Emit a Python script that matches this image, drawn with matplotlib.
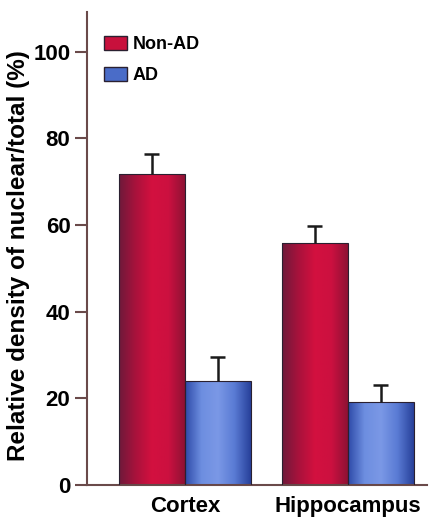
import numpy as np
import matplotlib
matplotlib.use("Agg")
import matplotlib.pyplot as plt
from matplotlib.colors import LinearSegmentedColormap
from matplotlib.patches import Patch

groups = ["Cortex", "Hippocampus"]
non_ad = [71.8, 55.9]
non_ad_err = [4.6, 3.9]
ad = [24.0, 19.2]
ad_err = [5.6, 3.9]

red_cmap = LinearSegmentedColormap.from_list(
    "red", ["#6e1a3a", "#a8123c", "#d3103f", "#cc1040", "#8e1234"])
blue_cmap = LinearSegmentedColormap.from_list(
    "blue", ["#2e4aa8", "#6d8ee0", "#7b98e6", "#5a7bd4", "#27409a"])

FONT = "Liberation Sans"

fig = plt.figure(figsize=(4.29, 5.22), dpi=100)
ax = fig.add_axes([0.203, 0.071, 0.792, 0.906])

x = np.arange(len(groups))
w = 0.405
grad = np.linspace(0, 1, 256).reshape(1, -1)


def shaded_bars(xs, vals, errs, cmap):
    vals = np.asarray(vals)
    errs = np.asarray(errs)
    bars = ax.bar(xs, vals, w, color="none", edgecolor="#2a2030", linewidth=0.8, zorder=3)
    for b in bars:
        im = ax.imshow(grad, cmap=cmap, aspect="auto", zorder=2,
                       extent=[b.get_x(), b.get_x() + b.get_width(), 0, b.get_height()])
        im.set_clip_path(b)
    # upper error bars only (no cap line at the bar top)
    ax.vlines(xs, vals, vals + errs, color="#1a1a1a", linewidth=1.8, zorder=4)
    cw = 0.046
    ax.hlines(vals + errs, xs - cw, xs + cw, color="#1a1a1a", linewidth=1.8, zorder=4)
    return bars


shaded_bars(x - w / 2, non_ad, non_ad_err, red_cmap)
shaded_bars(x + w / 2, ad, ad_err, blue_cmap)

ax.set_xlim(-0.60, 1.485)
ax.set_ylim(0, 109.2)

for s in ["top", "right"]:
    ax.spines[s].set_visible(False)
for s in ["left", "bottom"]:
    ax.spines[s].set_color("#6a4a4a")
    ax.spines[s].set_linewidth(1.5)

ax.set_yticks([0, 20, 40, 60, 80, 100])
ax.tick_params(axis="y", direction="out", length=9, width=1.5, color="#6a4a4a", pad=3)
ax.tick_params(axis="x", length=0, pad=8)
ax.set_yticklabels(["0", "20", "40", "60", "80", "100"],
                   family=FONT, fontweight="bold", fontsize=16)
ax.set_xticks(x)
ax.set_xticklabels(groups, family=FONT, fontweight="bold", fontsize=16)

ax.set_ylabel("Relative density of nuclear/total (%)", family=FONT,
              fontweight="bold", fontsize=17.5)
ax.yaxis.set_label_coords(-0.168, 0.486)

handles = [Patch(facecolor="#c8103c", edgecolor="#2a2030"),
           Patch(facecolor="#4a6cc8", edgecolor="#2a2030")]
ax.legend(handles, ["Non-AD", "AD"], loc="upper left", bbox_to_anchor=(0.05, 0.95),
          frameon=False, handlelength=1.25, handleheight=0.85, handletextpad=0.35,
          labelspacing=0.75, borderaxespad=0, borderpad=0,
          prop={"family": FONT, "weight": "bold", "size": 13})

fig.savefig("out.png", dpi=100)
